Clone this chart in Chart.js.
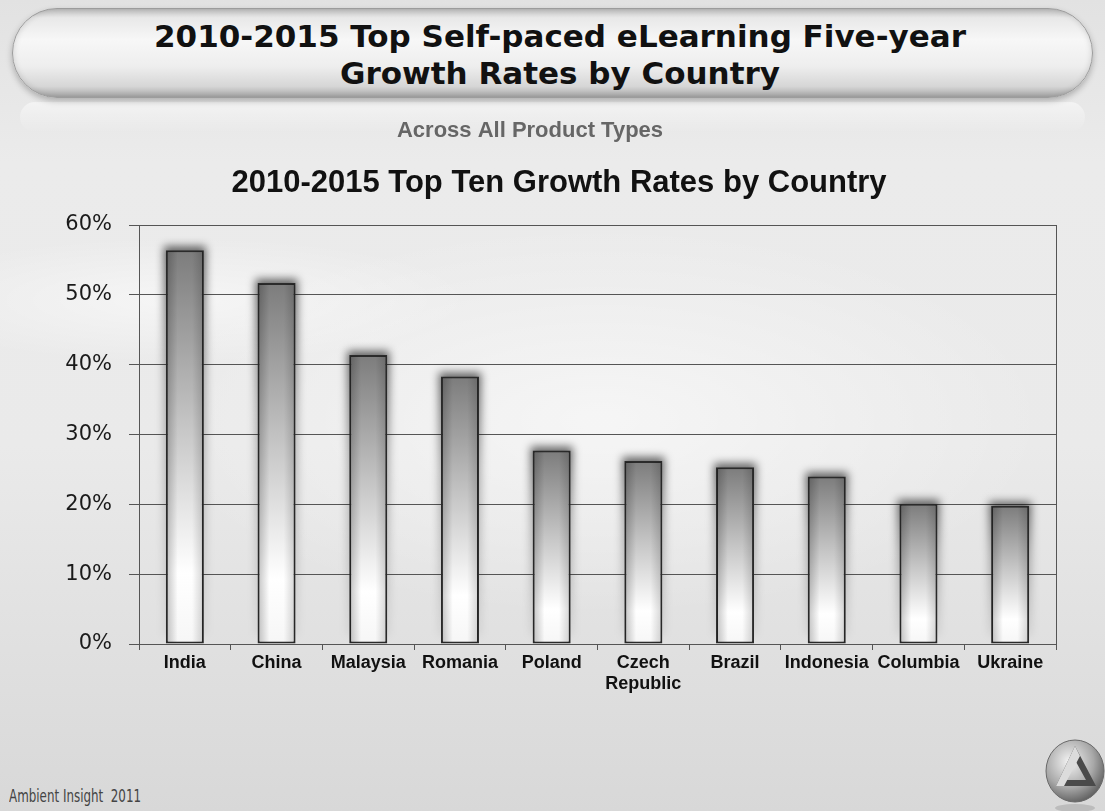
<!DOCTYPE html>
<html>
<head>
<meta charset="utf-8">
<script src="https://cdn.jsdelivr.net/npm/chart.js@4.4.1/dist/chart.umd.min.js"></script>
<style>
  html, body { margin:0; padding:0; }
  body { width:1105px; height:811px; overflow:hidden; position:relative;
    background:
      radial-gradient(ellipse 420px 90px at 180px 300px, rgba(255,255,255,0.55), rgba(255,255,255,0) 70%),
      radial-gradient(ellipse 600px 260px at 600px 420px, rgba(255,255,255,0.55), rgba(255,255,255,0) 75%),
      linear-gradient(180deg, #e2e2e2 0%, #ebebeb 20%, #eaeaea 55%, #e0e0e0 80%, #d8d8d8 100%);
  }
  #pill { position:absolute; left:12px; top:8px; width:1081px; height:90px; border-radius:45px;
    box-sizing:border-box; border:1px solid #9c9c9c;
    background: linear-gradient(180deg, #c0c0c0 0%, #e8e8e8 10%, #f7f7f7 35%, #eeeeee 65%, #d6d6d6 88%, #a6a6a6 100%);
    box-shadow: 0 3px 6px rgba(0,0,0,0.25), inset 0 0 6px rgba(0,0,0,0.15);
  }
  #maintitle { position:absolute; left:0; top:18px; width:1120px; text-align:center;
    font-family:"DejaVu Sans", Verdana, sans-serif; font-weight:bold; font-size:31px; line-height:37px; color:#111; }
  #reflect { position:absolute; left:20px; top:102px; width:1065px; height:30px; border-radius:20px;
    background: linear-gradient(180deg, rgba(255,255,255,0.5), rgba(255,255,255,0)); }
  #footer { position:absolute; left:9px; top:786px; font-family:"DejaVu Sans", sans-serif;
    font-size:17px; color:#444; transform:scaleX(0.7); transform-origin:0 0; white-space:nowrap; }
  #logo { position:absolute; left:1044px; top:738px; }
  canvas { position:absolute; left:0; top:0; }
</style>
</head>
<body>
<div id="reflect"></div>
<div id="pill"></div>
<div id="maintitle">2010-2015 Top Self-paced eLearning Five-year<br>Growth Rates by Country</div>
<div id="footer">Ambient Insight&nbsp; 2011</div>
<svg id="logo" width="62" height="73" viewBox="0 0 62 73">
  <defs>
    <radialGradient id="lg" cx="40%" cy="35%" r="70%">
      <stop offset="0" stop-color="#f4f4f4"/><stop offset="0.6" stop-color="#a8a8a8"/><stop offset="1" stop-color="#5a5a5a"/>
    </radialGradient>
  </defs>
  <ellipse cx="31" cy="33" rx="29" ry="31" fill="url(#lg)" stroke="#6a6a6a" stroke-width="1"/>
  <path d="M31 8 L52 48 L12 48 Z M31 22 L22 42 L42 42 Z" fill="#4a4a4a" fill-rule="evenodd"/>
  <path d="M31 8 L36 18 L20 48 L12 48 Z" fill="#dcdcdc"/>
  <ellipse cx="31" cy="70" rx="20" ry="4" fill="#bcbcbc"/>
</svg>
<canvas id="c" width="1105" height="811"></canvas>
<script>
const categories = ['India', 'China', 'Malaysia', 'Romania', 'Poland', ['Czech', 'Republic'], 'Brazil', 'Indonesia', 'Columbia', 'Ukraine'];
const growthRates = [56.4, 51.7, 41.4, 38.3, 27.7, 26.2, 25.3, 24.0, 20.1, 19.8];
const yTickValues = [0, 10, 20, 30, 40, 50, 60];
const chartTitle = '2010-2015 Top Ten Growth Rates by Country';
const chartSubtitle = 'Across All Product Types';

function barFill(ctx) {
  const chart = ctx.chart;
  if (!chart.chartArea || ctx.type !== 'data') return '#aaaaaa';
  const ys = chart.scales.y;
  const top = ys.getPixelForValue(ctx.raw);
  const bot = ys.getPixelForValue(0);
  const g = chart.ctx.createLinearGradient(0, top, 0, bot);
  g.addColorStop(0, '#7c7c7c');
  g.addColorStop(0.45, '#c6c6c6');
  g.addColorStop(0.82, '#ffffff');
  g.addColorStop(1, '#f6f6f6');
  return g;
}

const decor = {
  id: 'decor',
  beforeDatasetsDraw(chart) {
    const c = chart.ctx;
    const meta = chart.getDatasetMeta(0);
    c.save();
    c.filter = 'blur(4px)';
    meta.data.forEach(bar => {
      const p = bar.getProps(['x', 'y', 'base', 'width'], true);
      const g = c.createLinearGradient(0, p.y - 4, 0, p.base);
      g.addColorStop(0, 'rgba(0,0,0,0.6)');
      g.addColorStop(0.35, 'rgba(0,0,0,0.3)');
      g.addColorStop(1, 'rgba(0,0,0,0.05)');
      c.fillStyle = g;
      c.fillRect(p.x - p.width / 2 - 2, p.y - 4, p.width + 4, p.base - p.y - 4);
    });
    c.restore();
  },
  afterDatasetsDraw(chart) {
    const c = chart.ctx;
    const meta = chart.getDatasetMeta(0);
    meta.data.forEach(bar => {
      const p = bar.getProps(['x', 'y', 'base', 'width'], true);
      const l = p.x - p.width / 2 + 1, r = p.x + p.width / 2 - 1;
      const g = c.createLinearGradient(l, 0, r, 0);
      g.addColorStop(0, 'rgba(0,0,0,0.22)');
      g.addColorStop(0.3, 'rgba(0,0,0,0.0)');
      g.addColorStop(0.7, 'rgba(0,0,0,0.0)');
      g.addColorStop(1, 'rgba(0,0,0,0.16)');
      c.save();
      c.fillStyle = g;
      c.fillRect(l, p.y + 1, r - l, p.base - p.y - 2);
      c.restore();
    });
    const a = chart.chartArea;
    c.save();
    c.strokeStyle = '#555';
    c.lineWidth = 1;
    c.beginPath();
    c.moveTo(Math.round(a.right) + 0.5, a.top);
    c.lineTo(Math.round(a.right) + 0.5, a.bottom);
    c.stroke();
    c.restore();
  },
  afterDraw(chart) {
    const c = chart.ctx;
    c.save();
    c.textAlign = 'center';
    c.textBaseline = 'middle';
    c.fillStyle = '#666';
    c.font = 'bold 22px "Liberation Sans", Arial, sans-serif';
    c.fillText(chartSubtitle, 530, 131);
    c.fillStyle = '#111';
    c.font = 'bold 31px "Liberation Sans", Arial, sans-serif';
    c.fillText(chartTitle, 559, 183);
    c.restore();
  }
};

new Chart(document.getElementById('c'), {
  type: 'bar',
  data: {
    labels: categories,
    datasets: [{
      data: growthRates,
      backgroundColor: barFill,
      borderColor: '#2b2b2b',
      borderWidth: 2,
      borderSkipped: false,
      categoryPercentage: 1,
      barPercentage: 0.415
    }]
  },
  options: {
    responsive: false,
    animation: false,
    devicePixelRatio: 1,
    layout: { padding: { top: 225, right: 49, bottom: 107, left: 0 } },
    plugins: { legend: { display: false }, tooltip: { enabled: false }, title: { display: false } },
    scales: {
      x: {
        grid: { offset: true, drawOnChartArea: false, drawTicks: true, tickLength: 6, color: '#555' },
        border: { display: true, color: '#555', width: 1 },
        ticks: { color: '#111', font: { family: '"Liberation Sans", Arial, sans-serif', size: 18, weight: 'bold' },
                 maxRotation: 0, autoSkip: false, padding: 2 },
        afterFit(s) { s.height = 60; }
      },
      y: {
        min: 0, max: 60,
        afterBuildTicks(s) { s.ticks = yTickValues.map(v => ({ value: v })); },
        grid: { color: '#555', lineWidth: 1, tickLength: 10, drawTicks: true },
        border: { display: true, color: '#555', width: 1 },
        ticks: { color: '#1a1a1a', padding: 17, font: { family: '"DejaVu Sans", Verdana, sans-serif', size: 21 },
                 callback: v => v + '%' },
        afterFit(s) { s.width = 139; }
      }
    }
  },
  plugins: [decor]
});
</script>
</body>
</html>
